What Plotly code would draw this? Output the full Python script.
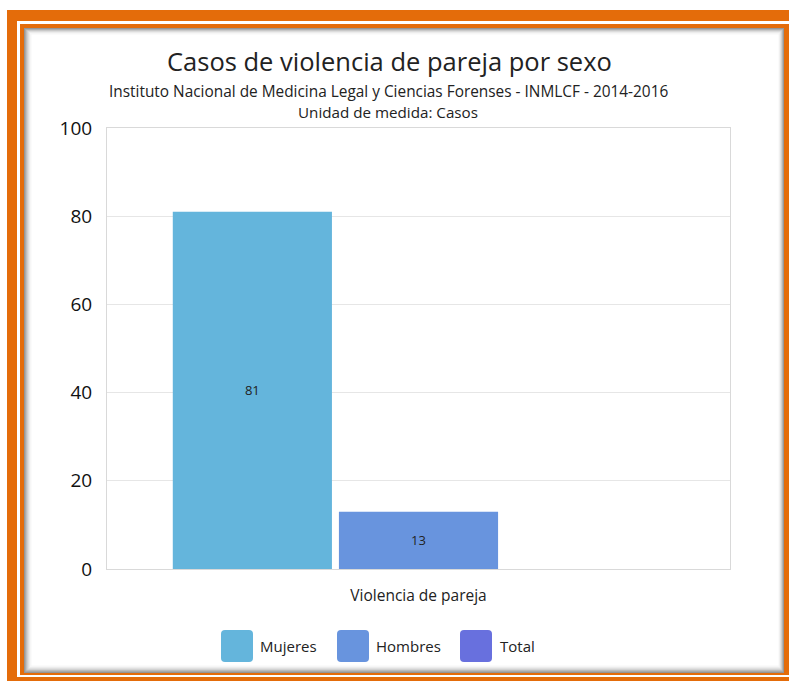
import plotly.graph_objects as go

# Data
categories = ["Violencia de pareja"]
series_names = ["Mujeres", "Hombres", "Total"]
mujeres = [81]
hombres = [13]
total = [None]
series_colors = ["#64B5DC", "#6894DE", "#6870DE"]
y_ticks = [0, 20, 40, 60, 80, 100]

W, H = 789, 681
ML, MR, MT, MB = 107, 59, 128, 112
PW, PH = W - ML - MR, H - MT - MB
FONT = "Open Sans"


def px(x):
    return (x - ML) / PW


def py(y):
    return 1 - (y - MT) / PH


def rect(x0, y0, x1, y1, color):
    return dict(type="rect", xref="paper", yref="paper", layer="below",
                x0=px(x0), x1=px(x1), y0=py(y1), y1=py(y0),
                fillcolor=color, line=dict(width=0))


def rounded(x0, y0, x1, y1, r, color):
    p = (f"M {px(x0 + r)},{py(y0)} L {px(x1 - r)},{py(y0)} "
         f"Q {px(x1)},{py(y0)} {px(x1)},{py(y0 + r)} L {px(x1)},{py(y1 - r)} "
         f"Q {px(x1)},{py(y1)} {px(x1 - r)},{py(y1)} L {px(x0 + r)},{py(y1)} "
         f"Q {px(x0)},{py(y1)} {px(x0)},{py(y1 - r)} L {px(x0)},{py(y0 + r)} "
         f"Q {px(x0)},{py(y0)} {px(x0 + r)},{py(y0)} Z")
    return dict(type="path", xref="paper", yref="paper", layer="above",
                path=p, fillcolor=color, line=dict(width=0))


fig = go.Figure()
for name, vals, col in zip(series_names, [mujeres, hombres, total], series_colors):
    fig.add_trace(go.Bar(
        x=categories, y=vals, name=name, marker_color=col,
        marker_line_width=0,
        text=[str(v) if v is not None else "" for v in vals],
        textposition="inside", insidetextanchor="middle",
        textfont=dict(family=FONT, size=13, color="#222222"),
        showlegend=False,
    ))

shapes = []
# Orange frame
shapes.append(rect(7, 10, 810, 700, "#E46C0A"))
shapes.append(rect(17, 21, 805, 677, "#FFFFFF"))
shapes.append(rect(20, 24, 805, 675, "#E46C0A"))
# Card with soft inner shadow
shade = [150, 175, 200, 220, 236, 246]
for k, g in enumerate(shade):
    shapes.append(rect(24 + k * 1.2, 28 + k * 1.0, 784 - k * 0.9, 673 - k * 1.2,
                       f"rgb({g},{g},{g})"))
shapes.append(rect(31.5, 34.5, 778.5, 665.5, "#FFFFFF"))

# Legend swatches and labels
annotations = []
legend_items = [(221, 258), (337, 374), (460, 498)]
for (sx, tx), name, col in zip(legend_items, series_names, series_colors):
    shapes.append(rounded(sx, 630, sx + 32, 662, 4, col))
    annotations.append(dict(xref="paper", yref="paper", x=px(tx), y=py(646),
                            xanchor="left", yanchor="middle", showarrow=False,
                            text=name, font=dict(family=FONT, size=15, color="#222222")))

# Titles
annotations.append(dict(xref="paper", yref="paper", x=px(389), y=py(61),
                        xanchor="center", yanchor="middle", showarrow=False,
                        text="Casos de violencia de pareja por sexo",
                        font=dict(family=FONT, size=25.5, color="#222222")))
annotations.append(dict(xref="paper", yref="paper", x=px(388), y=py(92),
                        xanchor="center", yanchor="middle", showarrow=False,
                        text="Instituto Nacional de Medicina Legal y Ciencias Forenses - INMLCF - 2014-2016",
                        font=dict(family=FONT, size=15.4, color="#222222")))
annotations.append(dict(xref="paper", yref="paper", x=px(388), y=py(112),
                        xanchor="center", yanchor="middle", showarrow=False,
                        text="Unidad de medida: Casos",
                        font=dict(family=FONT, size=15.2, color="#222222")))

fig.update_layout(
    width=W, height=H,
    margin=dict(l=ML, r=MR, t=MT, b=MB),
    paper_bgcolor="#FFFFFF", plot_bgcolor="#FFFFFF",
    barmode="group", bargap=0.2, bargroupgap=0.042,
    shapes=shapes, annotations=annotations,
    showlegend=False,
    font=dict(family=FONT, color="#222222"),
)
fig.update_xaxes(showline=True, mirror=True, linecolor="#D9D9D9", linewidth=1,
                 ticks="", ticklabelstandoff=12,
                 tickfont=dict(family=FONT, size=15.5, color="#222222"))
fig.update_yaxes(range=[0, 100], tickvals=y_ticks, showline=True, mirror=True,
                 linecolor="#D9D9D9", linewidth=1, gridcolor="#E6E6E6",
                 zeroline=False, ticks="", ticklabelstandoff=10,
                 tickfont=dict(family=FONT, size=19, color="#111111"))

fig.write_html("out.html")
